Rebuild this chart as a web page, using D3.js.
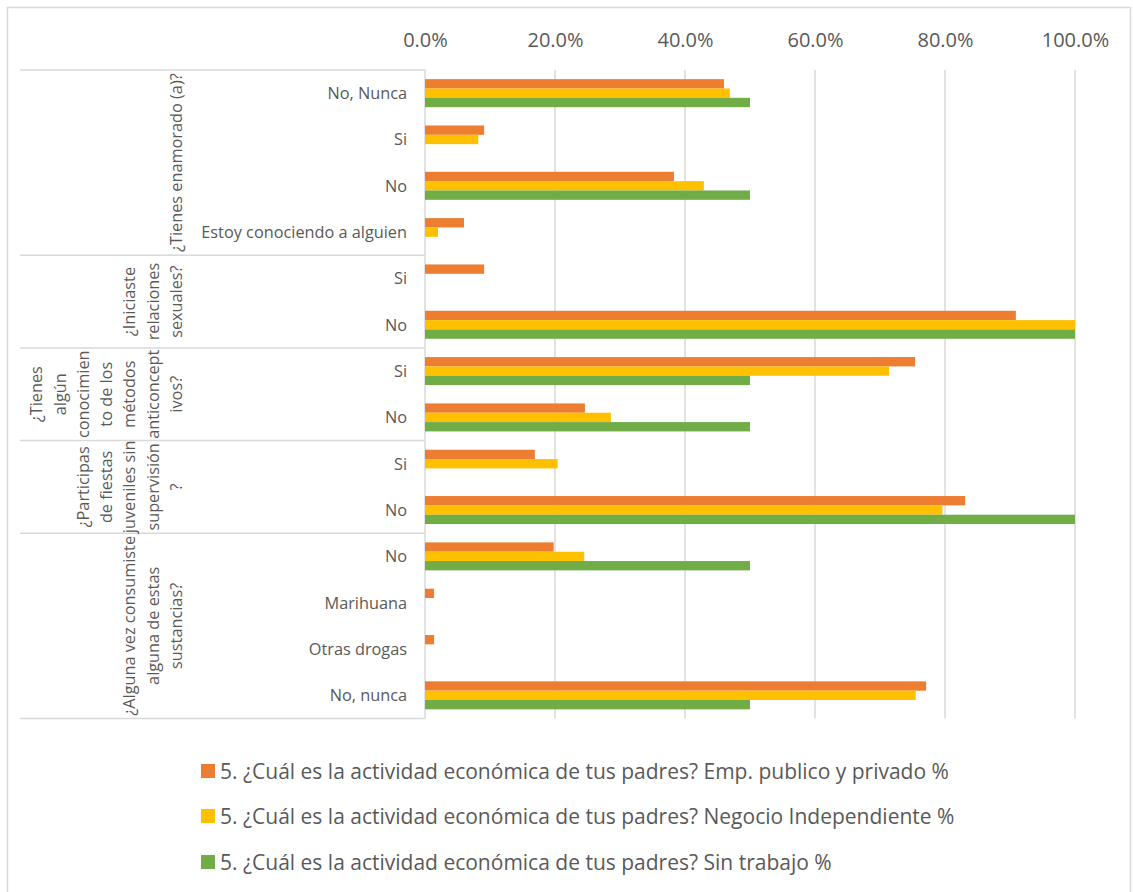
<!DOCTYPE html>
<html>
<head>
<meta charset="utf-8">
<script src="https://cdn.jsdelivr.net/npm/d3@7"></script>
<style>
  html, body { margin: 0; padding: 0; background: #fff; }
  svg { display: block; font-family: "Open Sans", "Noto Sans", sans-serif; }
</style>
</head>
<body>
<svg id="chart" width="1133" height="892"></svg>
<script>
// Survey answers (rows, top to bottom) and the question each one belongs to
const categories = [
  "No, Nunca", "Si", "No", "Estoy conociendo a alguien",
  "Si", "No",
  "Si", "No",
  "Si", "No",
  "No", "Marihuana", "Otras drogas", "No, nunca"
];
const categoryGroup = [0, 0, 0, 0, 1, 1, 2, 2, 3, 3, 4, 4, 4, 4];

// Question labels, already broken into lines
const groupLabels = [
  ["¿Tienes enamorado (a)?"],
  ["¿Iniciaste", "relaciones", "sexuales?"],
  ["¿Tienes", "algún", "conocimien", "to de los", "métodos", "anticoncept", "ivos?"],
  ["¿Participas", "de fiestas", "juveniles sin", "supervisión", "?"],
  ["¿Alguna vez consumiste", "alguna de estas", "sustancias?"]
];

// Percentages per parents' economic activity
const empPublicoPrivado    = [46.0, 9.1, 38.3, 6.0, 9.1, 90.9, 75.4, 24.6, 16.9, 83.1, 19.8, 1.4, 1.4, 77.1];
const negocioIndependiente = [46.9, 8.2, 42.9, 2.0, 0, 100, 71.4, 28.6, 20.4, 79.6, 24.5, 0, 0, 75.5];
const sinTrabajo           = [50, 0, 50, 0, 0, 100, 50, 50, 0, 100, 50, 0, 0, 50];

const seriesNames = [
  "5. ¿Cuál es la actividad económica de tus padres? Emp. publico y privado %",
  "5. ¿Cuál es la actividad económica de tus padres? Negocio Independiente %",
  "5. ¿Cuál es la actividad económica de tus padres? Sin trabajo %"
];
const seriesColors = ["#ED7D31", "#FFC000", "#70AD47"];
const seriesValues = [empPublicoPrivado, negocioIndependiente, sinTrabajo];

const tickValues = [0, 0.2, 0.4, 0.6, 0.8, 1.0];

const svg = d3.select("#chart");
const textColor = "#595959";
const lineColor = "#D9D9D9";

// Outer chart frame
svg.append("rect")
  .attr("x", 7.5).attr("y", 7.5)
  .attr("width", 1123).attr("height", 900)
  .attr("fill", "none").attr("stroke", lineColor).attr("stroke-width", 1.5);

const plot = { left: 425, right: 1075, top: 70, bottom: 718.5 };

const x = d3.scaleLinear().domain([0, 1]).range([plot.left, plot.right]);
const y = d3.scaleBand().domain(d3.range(categories.length)).range([plot.top, plot.bottom]).padding(0);
const groupSpan = 28;
const ySub = d3.scaleBand().domain(d3.range(seriesNames.length)).range([0, groupSpan]).padding(0);
const subOffset = (y.bandwidth() - groupSpan) / 2;

// Vertical gridlines
svg.append("g")
  .selectAll("line")
  .data(tickValues.slice(1))
  .join("line")
  .attr("x1", d => x(d)).attr("x2", d => x(d))
  .attr("y1", plot.top).attr("y2", plot.bottom)
  .attr("stroke", lineColor).attr("stroke-width", 1.5);

// Top value axis (labels only)
const axis = d3.axisTop(x).tickValues(tickValues).tickFormat(d3.format(".1%")).tickSize(0).tickPadding(0);
const axisG = svg.append("g").attr("transform", `translate(0,47)`).call(axis);
axisG.select(".domain").remove();
axisG.selectAll("text")
  .attr("fill", textColor)
  .style("font-size", "20px")
  .style("font-family", "'Open Sans', sans-serif")
  .attr("dy", 0);

// Category axis line
svg.append("line")
  .attr("x1", plot.left).attr("x2", plot.left)
  .attr("y1", plot.top).attr("y2", plot.bottom)
  .attr("stroke", lineColor).attr("stroke-width", 1.5);

// Question separators
const groupStarts = [];
categoryGroup.forEach((g, i) => { if (i === 0 || categoryGroup[i - 1] !== g) groupStarts.push(i); });
const boundaries = groupStarts.map(i => y(i)).concat([plot.bottom]);
svg.append("g")
  .selectAll("line")
  .data(boundaries)
  .join("line")
  .attr("x1", 20).attr("x2", plot.left)
  .attr("y1", d => d).attr("y2", d => d)
  .attr("stroke", lineColor).attr("stroke-width", 1.5);

// Bars
seriesValues.forEach((vals, s) => {
  svg.append("g")
    .selectAll("rect")
    .data(vals.map((v, i) => ({ v, i })))
    .join("rect")
    .attr("x", x(0))
    .attr("y", d => y(d.i) + subOffset + ySub(s))
    .attr("width", d => x(d.v / 100) - x(0))
    .attr("height", ySub.bandwidth())
    .attr("fill", seriesColors[s]);
});

// Answer labels
svg.append("g")
  .selectAll("text")
  .data(categories)
  .join("text")
  .attr("x", 407)
  .attr("y", (d, i) => y(i) + y.bandwidth() / 2)
  .attr("text-anchor", "end")
  .attr("dominant-baseline", "central")
  .attr("fill", textColor)
  .style("font-size", "16.3px")
  .text(d => d);

// Question labels, rotated, last line anchored next to the answers
const lineStep = 23.3;
const lastLineX = 176;
groupLabels.forEach((lines, g) => {
  const idx = categoryGroup.map((c, i) => c === g ? i : -1).filter(i => i >= 0);
  const cy = (y(idx[0]) + y(idx[idx.length - 1]) + y.bandwidth()) / 2;
  const n = lines.length;
  svg.append("g")
    .selectAll("text")
    .data(lines)
    .join("text")
    .attr("transform", (d, i) => `translate(${lastLineX - (n - 1 - i) * lineStep},${cy}) rotate(-90)`)
    .attr("text-anchor", "middle")
    .attr("dominant-baseline", "central")
    .attr("fill", textColor)
    .style("font-size", "16.3px")
    .text(d => d);
});

// Legend
const legendRows = [771, 816, 862];
const legend = svg.append("g");
seriesNames.forEach((name, s) => {
  legend.append("rect")
    .attr("x", 201).attr("y", legendRows[s] - 7)
    .attr("width", 14).attr("height", 14)
    .attr("fill", seriesColors[s]);
  legend.append("text")
    .attr("x", 220).attr("y", legendRows[s])
    .attr("dominant-baseline", "central")
    .attr("fill", textColor)
    .style("font-size", "21px")
    .text(name);
});
</script>
</body>
</html>
